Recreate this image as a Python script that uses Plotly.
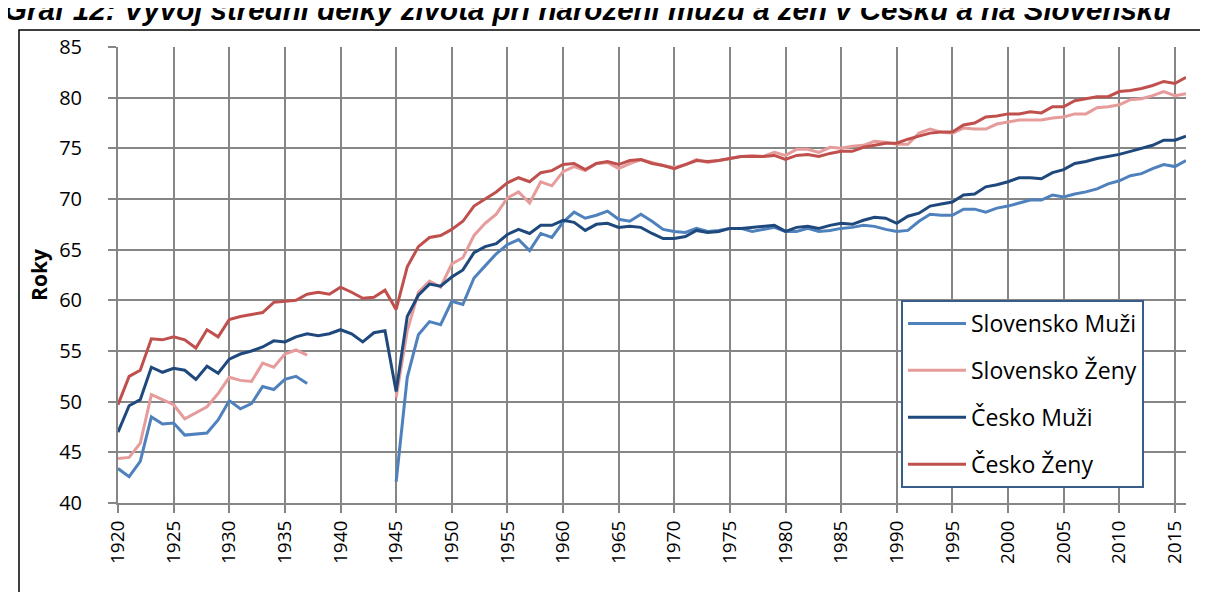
import plotly.graph_objects as go

years = list(range(1920, 2017))
tick_years = list(range(1920, 2016, 5))
y_ticks = list(range(40, 86, 5))

series_names = ["Slovensko Muži", "Slovensko Ženy", "Česko Muži", "Česko Ženy"]

gap = [None] * 7  # 1938-1944: no Slovak data

sk_muzi = [43.4, 42.6, 44.1, 48.5, 47.8, 47.9, 46.7, 46.8, 46.9, 48.2,
           50.1, 49.3, 49.8, 51.5, 51.2, 52.2, 52.5, 51.8] + gap + [
           42.1, 52.4, 56.6, 57.9, 57.6, 59.9, 59.6, 62.2, 63.4, 64.6,
           65.5, 66.0, 64.9, 66.6, 66.2, 67.7, 68.7, 68.1, 68.4, 68.8,
           68.0, 67.8, 68.5, 67.8, 67.0, 66.8, 66.7, 67.1, 66.8, 66.9,
           67.1, 67.1, 66.8, 67.0, 67.2, 66.8, 66.8, 67.1, 66.8, 66.9,
           67.1, 67.2, 67.4, 67.3, 67.0, 66.8, 66.9, 67.8, 68.5, 68.4,
           68.4, 69.0, 69.0, 68.7, 69.1, 69.3, 69.6, 69.9, 69.9, 70.4,
           70.2, 70.5, 70.7, 71.0, 71.5, 71.8, 72.3, 72.5, 73.0, 73.4,
           73.2, 73.8]

sk_zeny = [44.4, 44.5, 45.9, 50.7, 50.2, 49.7, 48.3, 48.9, 49.5, 50.8,
           52.4, 52.1, 52.0, 53.8, 53.4, 54.7, 55.1, 54.6] + gap + [
           50.4, 57.0, 60.8, 61.9, 61.3, 63.6, 64.2, 66.4, 67.6, 68.5,
           70.1, 70.7, 69.6, 71.7, 71.3, 72.7, 73.2, 72.8, 73.5, 73.6,
           73.0, 73.5, 73.9, 73.6, 73.3, 73.1, 73.4, 73.9, 73.6, 73.8,
           74.0, 74.2, 74.3, 74.2, 74.6, 74.3, 74.9, 74.9, 74.6, 75.1,
           75.0, 75.2, 75.3, 75.7, 75.6, 75.4, 75.4, 76.5, 76.9, 76.6,
           76.5, 77.0, 76.9, 76.9, 77.4, 77.6, 77.8, 77.8, 77.8, 78.0,
           78.1, 78.4, 78.4, 79.0, 79.1, 79.3, 79.8, 79.9, 80.2, 80.6,
           80.2, 80.4]

cz_muzi = [47.0, 49.6, 50.2, 53.4, 52.9, 53.3, 53.1, 52.2, 53.5, 52.8,
           54.2, 54.7, 55.0, 55.4, 56.0, 55.9, 56.4, 56.7, 56.5, 56.7,
           57.1, 56.7, 55.9, 56.8, 57.0, 51.0, 58.4, 60.5, 61.6, 61.4,
           62.3, 63.0, 64.7, 65.3, 65.6, 66.5, 67.0, 66.6, 67.4, 67.4,
           67.9, 67.7, 66.9, 67.5, 67.6, 67.2, 67.3, 67.2, 66.6, 66.1,
           66.1, 66.3, 66.9, 66.7, 66.8, 67.1, 67.1, 67.2, 67.3, 67.4,
           66.8, 67.2, 67.3, 67.1, 67.4, 67.6, 67.5, 67.9, 68.2, 68.1,
           67.6, 68.3, 68.6, 69.3, 69.5, 69.7, 70.4, 70.5, 71.2, 71.4,
           71.7, 72.1, 72.1, 72.0, 72.6, 72.9, 73.5, 73.7, 74.0, 74.2,
           74.4, 74.7, 75.0, 75.3, 75.8, 75.8, 76.2]

cz_zeny = [49.7, 52.5, 53.1, 56.2, 56.1, 56.4, 56.1, 55.3, 57.1, 56.4,
           58.1, 58.4, 58.6, 58.8, 59.8, 59.9, 60.0, 60.6, 60.8, 60.6,
           61.3, 60.8, 60.2, 60.3, 61.0, 59.1, 63.3, 65.3, 66.2, 66.4,
           67.0, 67.8, 69.3, 70.0, 70.7, 71.6, 72.1, 71.7, 72.6, 72.8,
           73.4, 73.5, 72.9, 73.5, 73.7, 73.4, 73.8, 73.9, 73.5, 73.3,
           73.0, 73.4, 73.8, 73.7, 73.8, 74.0, 74.2, 74.2, 74.2, 74.3,
           73.9, 74.3, 74.4, 74.2, 74.5, 74.7, 74.7, 75.1, 75.3, 75.5,
           75.5, 75.9, 76.2, 76.5, 76.6, 76.6, 77.3, 77.5, 78.1, 78.2,
           78.4, 78.4, 78.6, 78.5, 79.1, 79.1, 79.7, 79.9, 80.1, 80.1,
           80.6, 80.7, 80.9, 81.2, 81.6, 81.4, 82.0]

colors = ["#4F81BD", "#E59C9B", "#1F497D", "#C0504D"]
values = [sk_muzi, sk_zeny, cz_muzi, cz_zeny]

fig = go.Figure()
for i, (name, vals, col) in enumerate(zip(series_names, values, colors)):
    fig.add_trace(go.Scatter(
        x=years, y=vals, name=name, mode="lines",
        line=dict(color=col, width=3),
        legendgroup=f"g{i}",
        connectgaps=False,
    ))

W, H = 1208, 592
ml, mr, mt, mb = 110, 30, 39, 97
pw, ph = W - ml - mr, H - mt - mb

def px_x(p):
    return (p - ml) / pw

def px_y(p):
    return (H - mb - p) / ph

grid = "#868686"
font_family = "Open Sans"

fig.update_layout(
    width=W, height=H,
    margin=dict(l=ml, r=mr, t=mt, b=mb, autoexpand=False),
    paper_bgcolor="white", plot_bgcolor="white",
    font=dict(family=font_family, color="black"),
    showlegend=True,
    legend=dict(
        x=px_x(893), y=px_y(292), xanchor="left", yanchor="top",
        bgcolor="white", bordercolor="#385D8A", borderwidth=2,
        font=dict(size=23, family=font_family, color="black"),
        tracegroupgap=14, itemwidth=58,
        traceorder="grouped",
    ),
    xaxis=dict(
        range=[1920, 2016], tickmode="array", tickvals=tick_years,
        ticktext=[str(t) for t in tick_years],
        tickangle=-90, ticks="outside", ticklen=8, tickwidth=2, tickcolor=grid,
        showgrid=True, gridcolor=grid, gridwidth=2,
        showline=True, linecolor=grid, linewidth=2,
        zeroline=False, tickfont=dict(size=19, family=font_family),
        automargin=False,
    ),
    yaxis=dict(
        range=[40, 85], tickmode="array", tickvals=y_ticks,
        ticks="outside", ticklen=8, tickwidth=2, tickcolor=grid,
        showgrid=True, gridcolor=grid, gridwidth=2,
        showline=True, linecolor=grid, linewidth=2,
        zeroline=False, tickfont=dict(size=20, family=font_family),
        ticklabelstandoff=22,
        title=dict(text="<b>Roky</b>", font=dict(size=21, family=font_family), standoff=6),
        automargin=False,
    ),
    shapes=[dict(
        type="rect", xref="paper", yref="paper",
        x0=px_x(11), x1=px_x(1230), y0=px_y(620), y1=px_y(22),
        line=dict(color="black", width=1.5), fillcolor="rgba(0,0,0,0)", layer="below",
    )],
    annotations=[dict(
        text="<b><i>Graf 12: Vývoj střední délky života při narození mužů a žen v Česku a na Slovensku</i></b>",
        xref="paper", yref="paper", x=px_x(-6), y=px_y(20),
        xanchor="left", yanchor="bottom", showarrow=False,
        font=dict(family="Liberation Sans", size=29.5, color="black"),
    )],
)

fig.write_html("out.html")
